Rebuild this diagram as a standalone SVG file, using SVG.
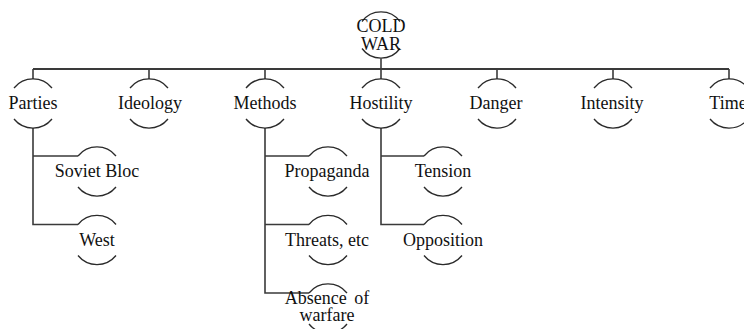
<svg xmlns="http://www.w3.org/2000/svg" xmlns:xlink="http://www.w3.org/1999/xlink" width="744" height="329" viewBox="0 0 744 329">
<style>
.bg{fill:#ffffff}
.ln{stroke:#3a3a3a;stroke-width:1.6;fill:none}
.main{stroke:#3a3a3a;stroke-width:2.2;fill:none}
.arc{stroke:#2a2a2a;stroke-width:1.3;fill:none}
text{font-family:"Liberation Serif","Times New Roman",serif;font-size:18px;fill:#111;text-anchor:middle}
</style>
<defs>
<g id="ring">
<path class="arc" d="M-19,-15.5 A24.5,24.5 0 0 1 19,-15.5"/>
<path class="arc" d="M-19,15.5 A24.5,24.5 0 0 0 19,15.5"/>
</g>
</defs>
<rect class="bg" x="0" y="0" width="744" height="329"/>
<g id="connectors">
<line class="ln" x1="381" y1="58.5" x2="381" y2="69"/>
<line class="main" x1="33" y1="69" x2="729" y2="69"/>
<line class="ln" x1="33" y1="69" x2="33" y2="79"/>
<line class="ln" x1="149" y1="69" x2="149" y2="79"/>
<line class="ln" x1="265" y1="69" x2="265" y2="79"/>
<line class="ln" x1="381" y1="69" x2="381" y2="79"/>
<line class="ln" x1="497" y1="69" x2="497" y2="79"/>
<line class="ln" x1="613" y1="69" x2="613" y2="79"/>
<line class="ln" x1="729" y1="69" x2="729" y2="79"/>
<path class="ln" d="M33,128 V224.5 H78 M33,156 H78"/>
<path class="ln" d="M265,128 V293 H309 M265,156 H309 M265,224.5 H309"/>
<path class="ln" d="M381,128 V224.5 H424 M381,156 H424"/>
</g>
<g id="cold-war">
<path class="arc" d="M-19,-13.5 A23.5,23.5 0 0 1 19,-13.5" transform="translate(381,35)"/>
<path class="arc" d="M-19,13.5 A23.5,23.5 0 0 0 19,13.5" transform="translate(381,35)"/>
<text x="381" y="32">COLD</text>
<text x="381" y="50">WAR</text>
</g>
<g id="parties"><use xlink:href="#ring" x="33" y="103.5"/><text x="33" y="109">Parties</text></g>
<g id="ideology"><use xlink:href="#ring" x="149" y="103.5"/><text x="150" y="109">Ideology</text></g>
<g id="methods"><use xlink:href="#ring" x="265" y="103.5"/><text x="265" y="109">Methods</text></g>
<g id="hostility"><use xlink:href="#ring" x="381" y="103.5"/><text x="381" y="109">Hostility</text></g>
<g id="danger"><use xlink:href="#ring" x="497" y="103.5"/><text x="496" y="109">Danger</text></g>
<g id="intensity"><use xlink:href="#ring" x="613" y="103.5"/><text x="612" y="109">Intensity</text></g>
<g id="time"><use xlink:href="#ring" x="729" y="103.5"/><text x="728" y="109">Time</text></g>
<g id="soviet-bloc"><use xlink:href="#ring" x="97" y="171.5"/><text x="97" y="177">Soviet Bloc</text></g>
<g id="west"><use xlink:href="#ring" x="97" y="240"/><text x="97" y="245.5">West</text></g>
<g id="propaganda"><use xlink:href="#ring" x="328" y="171.5"/><text x="327" y="177">Propaganda</text></g>
<g id="threats"><use xlink:href="#ring" x="328" y="240"/><text x="327" y="245.5">Threats, etc</text></g>
<g id="absence"><use xlink:href="#ring" x="328" y="308.5"/><text x="327" y="304" word-spacing="3">Absence of</text><text x="327" y="321">warfare</text></g>
<g id="tension"><use xlink:href="#ring" x="443" y="171.5"/><text x="443" y="177">Tension</text></g>
<g id="opposition"><use xlink:href="#ring" x="443" y="240"/><text x="443" y="245.5">Opposition</text></g>
</svg>
